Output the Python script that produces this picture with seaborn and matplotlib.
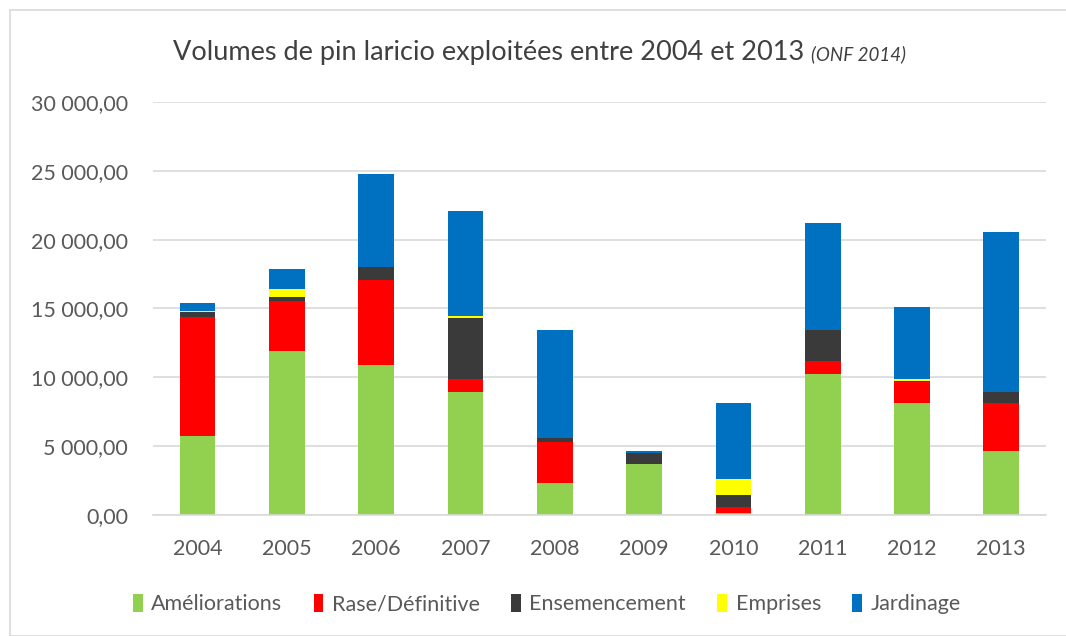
import numpy as np
import pandas as pd
import seaborn as sns
import matplotlib.pyplot as plt
from matplotlib.patches import Patch, Rectangle

# Data (m3)
years = ["2004", "2005", "2006", "2007", "2008", "2009", "2010", "2011", "2012", "2013"]
ameliorations = [5760, 11910, 10920, 8960, 2300, 3680, 150, 10210, 8110, 4650]
rase_definitive = [8620, 3610, 6150, 890, 3030, 0, 450, 1000, 1570, 3460]
ensemencement = [340, 290, 960, 4480, 290, 850, 850, 2220, 50, 850]
emprises = [120, 580, 0, 120, 0, 0, 1140, 0, 120, 0]
jardinage = [580, 1500, 6710, 7630, 7810, 120, 5570, 7800, 5230, 11570]

series_names = ["Améliorations", "Rase/Définitive", "Ensemencement", "Emprises", "Jardinage"]
series_vals = [ameliorations, rase_definitive, ensemencement, emprises, jardinage]
colors = ["#92D050", "#FF0000", "#3A3A3A", "#FFFF00", "#0070C0"]

txt = "#595959"
sns.set_style("white")
plt.rcParams["font.family"] = ["Lato", "DejaVu Sans"]

fig = plt.figure(figsize=(10.66, 6.36), dpi=100)
ax = fig.add_axes([0.1435, 0.1903, 0.8377, 0.6493])

# stacked bars: draw cumulative totals, top series first
cum = np.cumsum(np.array(series_vals), axis=0)
for i in range(len(series_names) - 1, -1, -1):
    df = pd.DataFrame({"year": years, "value": cum[i]})
    sns.barplot(data=df, x="year", y="value", color=colors[i], width=0.4,
                saturation=1, ax=ax, linewidth=0)

ax.set_ylim(0, 30000)
ax.set_xlim(-0.5, 9.5)
ax.set_yticks(np.arange(0, 30001, 5000))
ax.set_yticklabels([f"{v:,}".replace(",", " ") + ",00" for v in range(0, 30001, 5000)])
ax.yaxis.grid(True, color="#D9D9D9", linewidth=1.2)
ax.set_axisbelow(True)
ax.set_xlabel("")
ax.set_ylabel("")
for s in ["top", "left", "right"]:
    ax.spines[s].set_visible(False)
ax.spines["bottom"].set_color("#D9D9D9")
ax.spines["bottom"].set_linewidth(1.2)
ax.tick_params(axis="both", length=0, labelsize=15.5, colors=txt)
ax.tick_params(axis="y", pad=18)
ax.tick_params(axis="x", pad=17)

# title: main part then the small italic source right after it
t1 = fig.text(173 / 1066, 0.918, "Volumes de pin laricio exploitées entre 2004 et 2013",
              ha="left", va="center", fontsize=19.5, color="#404040")
fig.canvas.draw()
bb = t1.get_window_extent()
fig.text((bb.x1 + 7) / 1066, 0.914, "(ONF 2014)", ha="left", va="center",
         fontsize=13.5, style="italic", color="#404040")

handles = [Patch(facecolor=c, edgecolor="none", label=n) for c, n in zip(colors, series_names)]
fig.legend(handles=handles, loc="center", bbox_to_anchor=(0.513, 0.05), ncol=5,
           frameon=False, fontsize=15.5, labelcolor=txt, handlelength=0.45,
           handleheight=0.9, handletextpad=0.4, columnspacing=1.45)

fig.patches.append(Rectangle((10 / 1066, 0), 1.2, 1 - 10 / 636, transform=fig.transFigure,
                             fill=False, edgecolor="#D9D9D9", linewidth=1.2))

fig.savefig("out.png", dpi=100)
